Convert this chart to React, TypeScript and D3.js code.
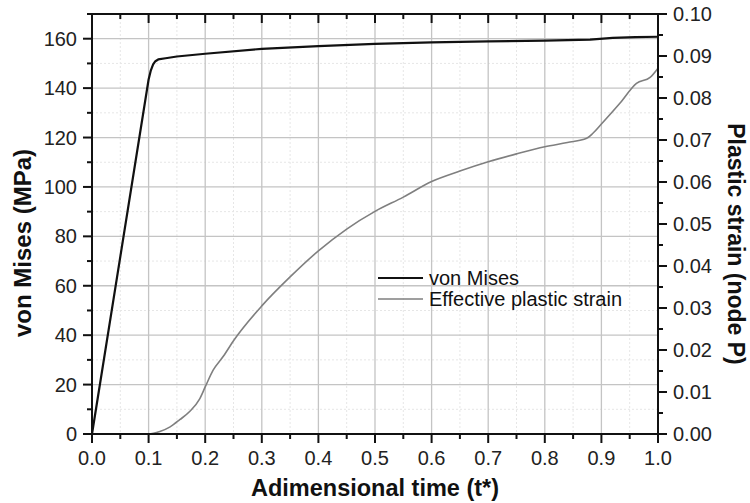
import React from "react";
import * as d3 from "d3";

const vmT = [0, 0.1, 0.104, 0.108, 0.112, 0.117, 0.13, 0.15, 0.2, 0.3, 0.4, 0.5, 0.6, 0.7, 0.8, 0.88, 0.92, 0.96, 1.0];
const vmV = [0, 143.5, 147.2, 149.6, 150.9, 151.6, 152.1, 152.8, 153.9, 155.9, 157.0, 157.9, 158.5, 158.9, 159.2, 159.6, 160.3, 160.6, 160.8];

const psT = [0, 0.1, 0.12, 0.138, 0.155, 0.173, 0.19, 0.2, 0.214, 0.232, 0.25, 0.3, 0.35, 0.4, 0.45, 0.5, 0.55, 0.6, 0.65, 0.7, 0.75, 0.8, 0.84, 0.874, 0.885, 0.9, 0.933, 0.962, 0.986, 1.0];
const psV = [0, 0, 0.0006, 0.0017, 0.0034, 0.0054, 0.0083, 0.0112, 0.0152, 0.0185, 0.0222, 0.0305, 0.0374, 0.0436, 0.0488, 0.053, 0.0564, 0.0601, 0.0626, 0.0648, 0.0667, 0.0684, 0.0694, 0.0704, 0.0716, 0.0738, 0.0788, 0.0835, 0.0849, 0.0871];

const xTicks = [0, 0.1, 0.2, 0.3, 0.4, 0.5, 0.6, 0.7, 0.8, 0.9, 1.0];
const xMinor = [0.05, 0.15, 0.25, 0.35, 0.45, 0.55, 0.65, 0.75, 0.85, 0.95];
const yTicks = [0, 20, 40, 60, 80, 100, 120, 140, 160];
const yMinor = [10, 30, 50, 70, 90, 110, 130, 150, 170];
const y2Ticks = [0, 0.01, 0.02, 0.03, 0.04, 0.05, 0.06, 0.07, 0.08, 0.09, 0.1];
const y2Minor = [0.005, 0.015, 0.025, 0.035, 0.045, 0.055, 0.065, 0.075, 0.085, 0.095];

const legendLabels = ["von Mises", "Effective plastic strain"];

export default function App() {
  const L = 92, R = 658, T = 14, B = 434;
  const x = d3.scaleLinear().domain([0, 1]).range([L, R]);
  const y = d3.scaleLinear().domain([0, 170]).range([B, T]);
  const y2 = d3.scaleLinear().domain([0, 0.1]).range([B, T]);

  const vmLine = d3.line<number>().x((_, i) => x(vmT[i])).y((d) => y(d))(vmV) || "";
  const psLine = d3.line<number>().x((_, i) => x(psT[i])).y((d) => y2(d)).curve(d3.curveMonotoneX)(psV) || "";

  const font = "'Liberation Sans', Arial, sans-serif";
  const fmt1 = d3.format(".1f");
  const fmt2 = d3.format(".2f");

  return (
    <svg width={750} height={503} style={{ position: "absolute", left: 0, top: 0, background: "#fff" }} fontFamily={font}>
      {/* minor grid */}
      {xMinor.map((t) => (
        <line key={"gxm" + t} x1={x(t)} x2={x(t)} y1={T} y2={B} stroke="#e6e6e6" strokeWidth={1} strokeDasharray="2,2" />
      ))}
      {yMinor.filter((v) => v < 170).map((v) => (
        <line key={"gym" + v} x1={L} x2={R} y1={y(v)} y2={y(v)} stroke="#e6e6e6" strokeWidth={1} strokeDasharray="2,2" />
      ))}
      {/* major grid */}
      {xTicks.filter((t) => t > 0 && t < 1).map((t) => (
        <line key={"gx" + t} x1={x(t)} x2={x(t)} y1={T} y2={B} stroke="#c4c4c4" strokeWidth={1.3} />
      ))}
      {yTicks.filter((v) => v > 0).map((v) => (
        <line key={"gy" + v} x1={L} x2={R} y1={y(v)} y2={y(v)} stroke="#c4c4c4" strokeWidth={1.3} />
      ))}

      {/* data */}
      <path d={psLine} fill="none" stroke="#7f7f7f" strokeWidth={1.6} />
      <path d={vmLine} fill="none" stroke="#111" strokeWidth={2.2} strokeLinejoin="round" />

      {/* axes frame */}
      <rect x={L} y={T} width={R - L} height={B - T} fill="none" stroke="#111" strokeWidth={2} />

      {/* bottom ticks */}
      {xTicks.map((t) => (
        <g key={"bx" + t}>
          <line x1={x(t)} x2={x(t)} y1={B} y2={B + 9} stroke="#111" strokeWidth={2} />
          <line x1={x(t)} x2={x(t)} y1={T} y2={T + 9} stroke="#111" strokeWidth={2} />
          <text x={x(t)} y={B + 31} textAnchor="middle" fontSize={20} fill="#222">{fmt1(t)}</text>
        </g>
      ))}
      {xMinor.map((t) => (
        <g key={"bxm" + t}>
          <line x1={x(t)} x2={x(t)} y1={B} y2={B + 5} stroke="#111" strokeWidth={2} />
          <line x1={x(t)} x2={x(t)} y1={T} y2={T + 5} stroke="#111" strokeWidth={2} />
        </g>
      ))}

      {/* left ticks */}
      {yTicks.map((v) => (
        <g key={"ly" + v}>
          <line x1={L - 9} x2={L} y1={y(v)} y2={y(v)} stroke="#111" strokeWidth={2} />
          <text x={L - 15} y={y(v) + 7} textAnchor="end" fontSize={20} fill="#222">{v}</text>
        </g>
      ))}
      {yMinor.map((v) => (
        <line key={"lym" + v} x1={L - 5} x2={L} y1={y(v)} y2={y(v)} stroke="#111" strokeWidth={2} />
      ))}

      {/* right ticks */}
      {y2Ticks.map((v) => (
        <g key={"ry" + v}>
          <line x1={R} x2={R + 9} y1={y2(v)} y2={y2(v)} stroke="#111" strokeWidth={2} />
          <text x={R + 15} y={y2(v) + 7} textAnchor="start" fontSize={20} fill="#222">{fmt2(v)}</text>
        </g>
      ))}
      {y2Minor.map((v) => (
        <line key={"rym" + v} x1={R} x2={R + 5} y1={y2(v)} y2={y2(v)} stroke="#111" strokeWidth={2} />
      ))}

      {/* axis titles */}
      <text x={375} y={496} textAnchor="middle" fontSize={23.5} fontWeight="bold" fill="#111">Adimensional time (t*)</text>
      <text transform={`translate(31,243) rotate(-90)`} textAnchor="middle" fontSize={24} fontWeight="bold" fill="#111">von Mises (MPa)</text>
      <text transform={`translate(728,244) rotate(90)`} textAnchor="middle" fontSize={23} fontWeight="bold" fill="#111">Plastic strain (node P)</text>

      {/* legend */}
      <g>
        <line x1={378} x2={423} y1={278} y2={278} stroke="#111" strokeWidth={2.2} />
        <text x={429} y={285} fontSize={20} fill="#111">{legendLabels[0]}</text>
        <line x1={378} x2={423} y1={299} y2={299} stroke="#7f7f7f" strokeWidth={1.6} />
        <text x={429} y={306} fontSize={20} fill="#111">{legendLabels[1]}</text>
      </g>
    </svg>
  );
}
